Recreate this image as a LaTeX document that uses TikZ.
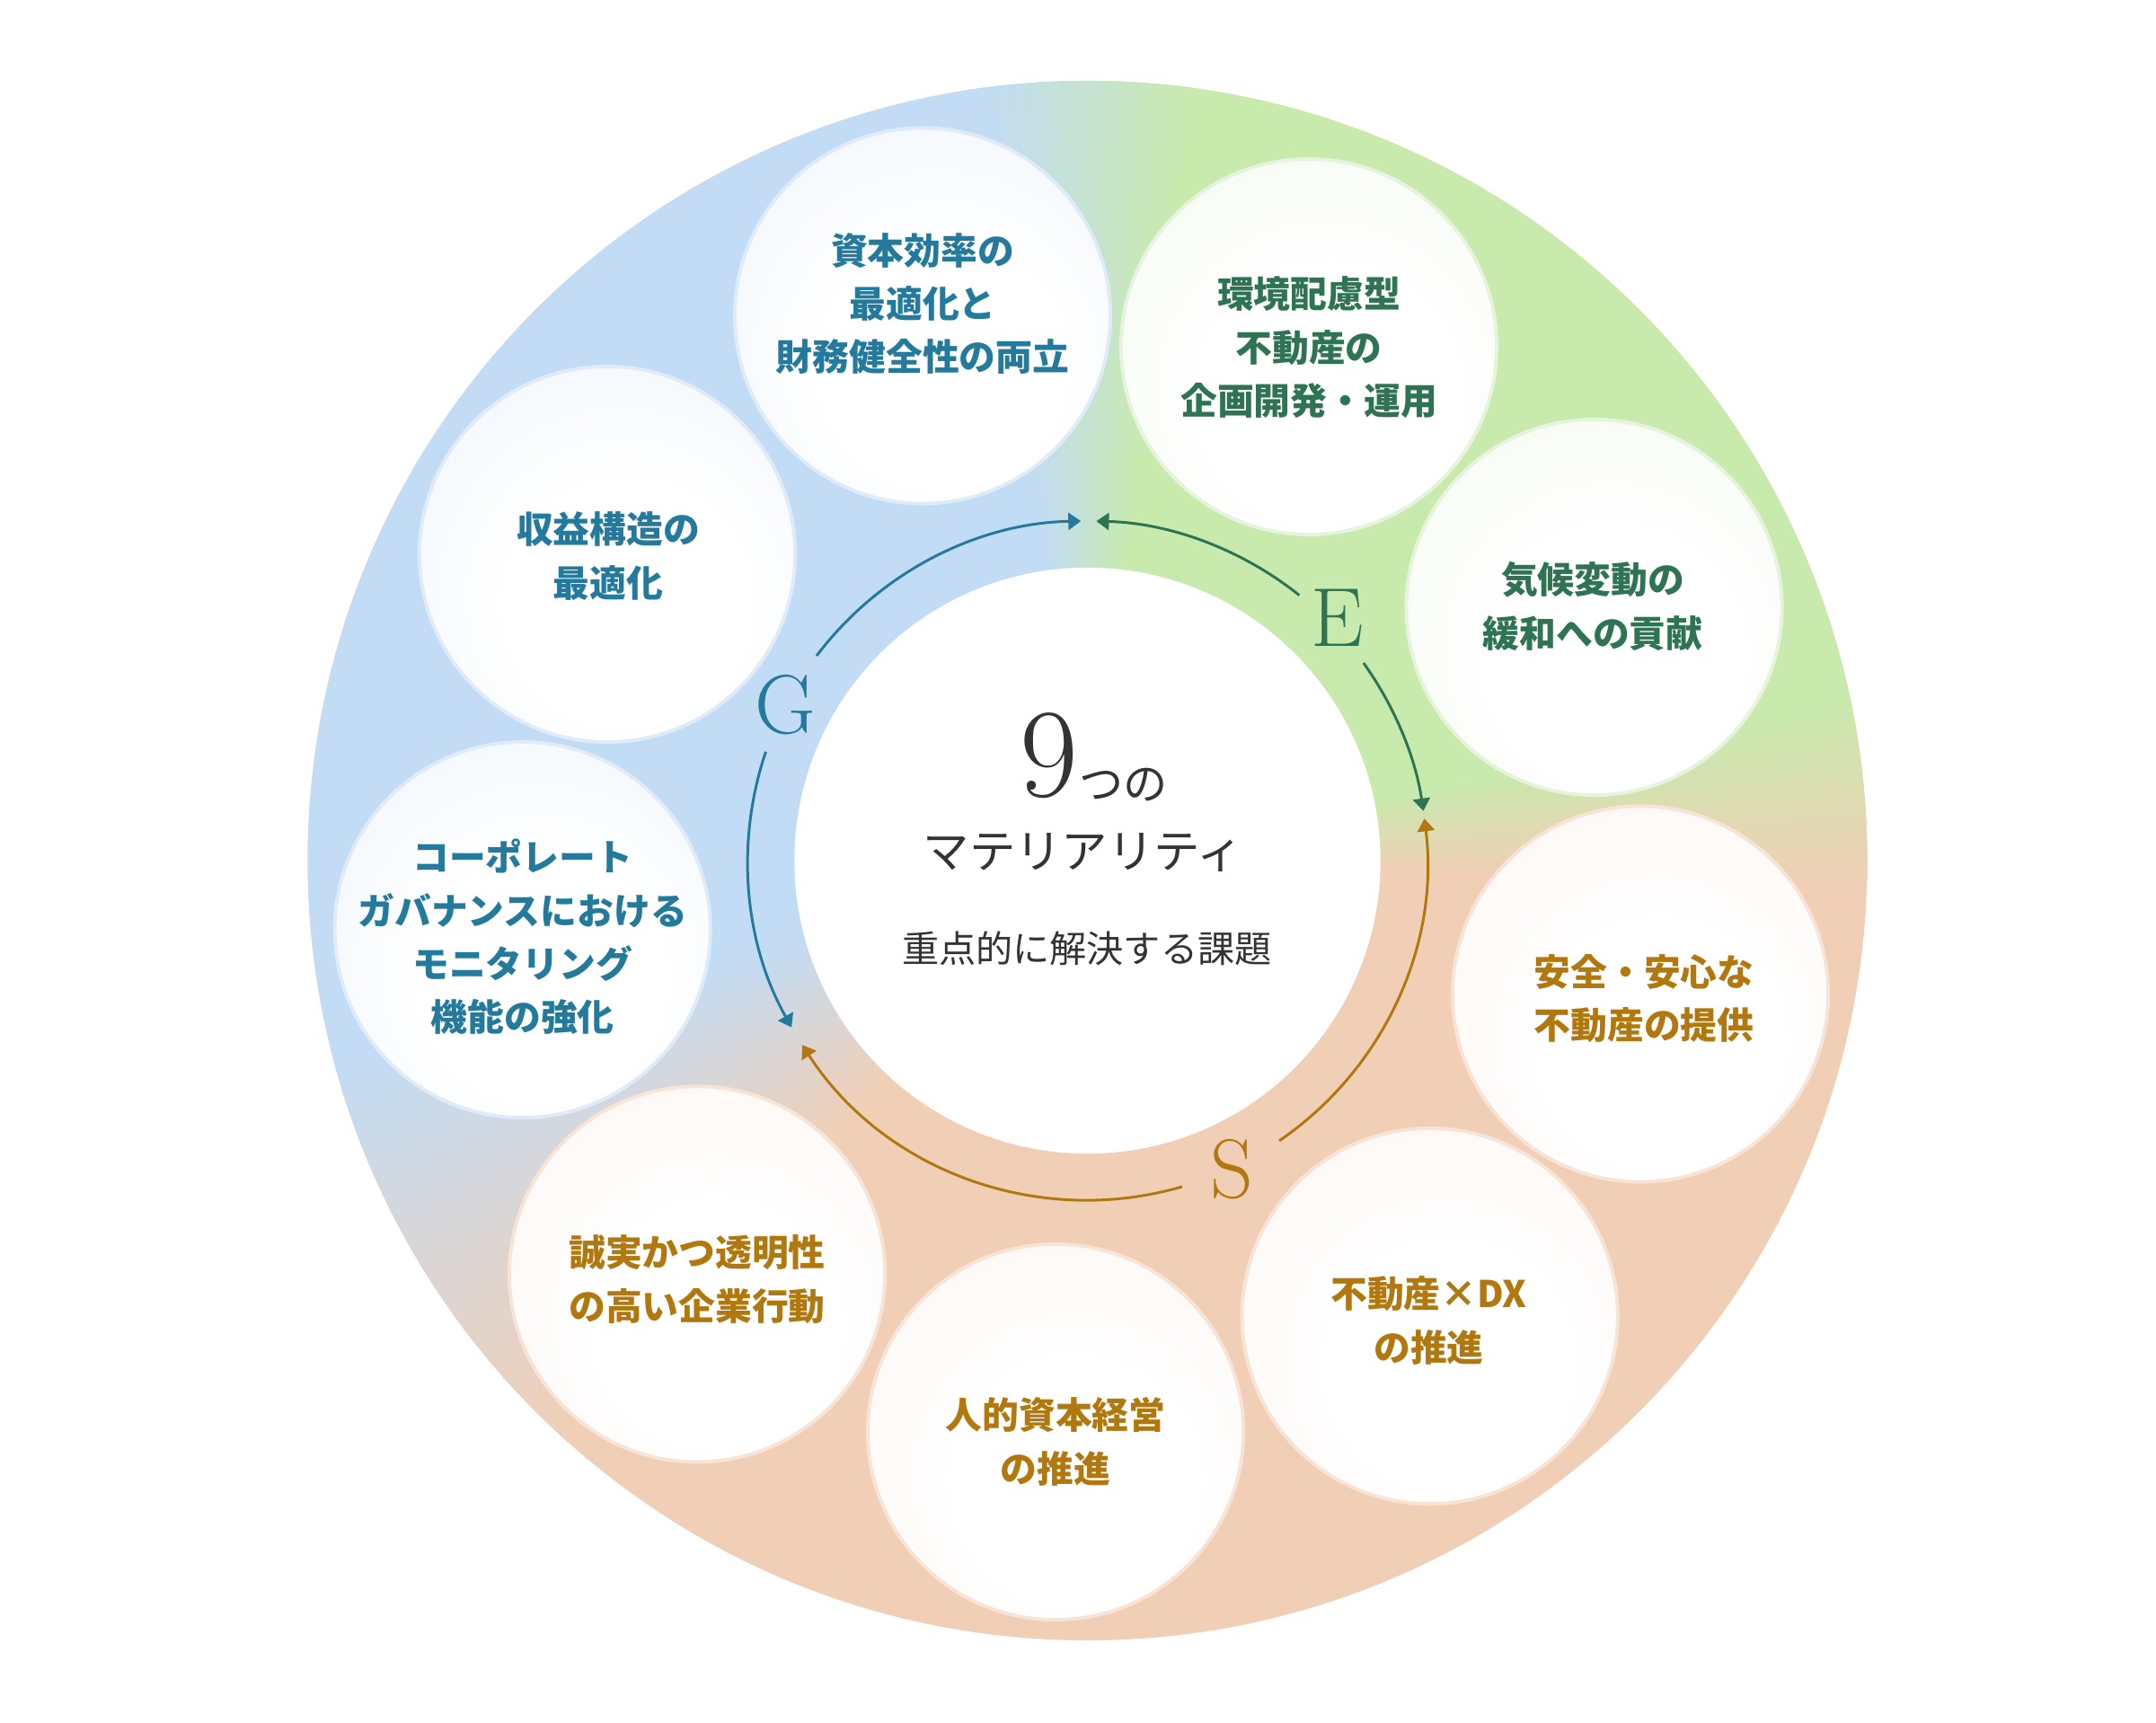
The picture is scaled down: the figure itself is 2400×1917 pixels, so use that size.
\documentclass[tikz,border=0pt]{standalone}
\usepackage{fontspec}
\newfontfamily\jp{Noto Sans CJK JP}
\usetikzlibrary{arrows.meta}
\definecolor{bgBlue}{HTML}{C2DCF5}
\definecolor{bgGreen}{HTML}{C8EAAD}
\definecolor{bgPeach}{HTML}{F1CFB6}
\definecolor{txtBlue}{HTML}{247A9D}
\definecolor{txtGreen}{HTML}{2E7452}
\definecolor{txtGold}{HTML}{B0780E}
\definecolor{ink}{HTML}{333333}
\definecolor{tintB}{HTML}{E6EFFA}
\definecolor{tintE}{HTML}{EEF7E8}
\definecolor{tintS}{HTML}{FCF0E9}
\definecolor{bordB}{HTML}{DFEBF8}
\definecolor{bordE}{HTML}{E6F3DD}
\definecolor{bordS}{HTML}{F8E3D7}
\pgfdeclareradialshading{bubB}{\pgfpoint{4bp}{-10bp}}{color(0bp)=(white); color(16bp)=(white); color(50bp)=(tintB)}
\pgfdeclareradialshading{bubE}{\pgfpoint{4bp}{-10bp}}{color(0bp)=(white); color(16bp)=(white); color(50bp)=(tintE)}
\pgfdeclareradialshading{bubS}{\pgfpoint{4bp}{-10bp}}{color(0bp)=(white); color(16bp)=(white); color(50bp)=(tintS)}
\begin{document}
\begin{tikzpicture}[x=0.01cm,y=0.01cm,
  bubble/.style={circle, minimum size=4.18cm, inner sep=0pt, line width=1.1pt, shade},
  bubG/.style={bubble, shading=bubB, draw=bordB},
  bubEn/.style={bubble, shading=bubE, draw=bordE},
  bubSo/.style={bubble, shading=bubS, draw=bordS},
  btext/.style={font=\jp\bfseries\fontsize{11.6pt}{16.9pt}\selectfont, align=center, inner sep=0pt},
  tG/.style={btext, text=txtBlue},
  tE/.style={btext, text=txtGreen},
  tS/.style={btext, text=txtGold},
  lbl/.style={font=\fontsize{26.5pt}{30pt}\selectfont, inner sep=0pt},
  arrtip/.style={-{Triangle[length=0.14cm,width=0.19cm]}},
  arrG/.style={draw=txtBlue, line width=0.85pt, arrtip},
  arrE/.style={draw=txtGreen, line width=0.85pt, arrtip},
  arrS/.style={draw=txtGold, line width=0.85pt, arrtip}]
\useasboundingbox (0,0) rectangle (2400,1917);
\fill[white] (0,0) rectangle (2400,1917);
\coordinate (C) at (1210.5,959);
% ring background (conic blend)
\fill[bgPeach] (C) circle[radius=868];
\fill[bgBlue] (C) -- ++(97:868) arc[start angle=97, end angle=196, radius=868] -- cycle;
\fill[bgGreen] (C) -- ++(11:868) arc[start angle=11, end angle=84, radius=868] -- cycle;
\foreach \i in {0,...,63}{
  \pgfmathsetmacro\a{82+0.25*\i}
  \pgfmathtruncatemacro\p{(\i+0.5)/64*100}
  \fill[bgBlue!\p!bgGreen] (C) -- ++(\a:868) arc[start angle=\a, delta angle=0.5, radius=868] -- cycle;
}
\foreach \i in {0,...,55}{
  \pgfmathsetmacro\a{-2+0.25*\i}
  \pgfmathtruncatemacro\p{(\i+0.5)/56*100}
  \fill[bgGreen!\p!bgPeach] (C) -- ++(\a:868) arc[start angle=\a, delta angle=0.5, radius=868] -- cycle;
}
\foreach \i in {0,...,131}{
  \pgfmathsetmacro\a{195+0.25*\i}
  \pgfmathtruncatemacro\p{100-(\i+0.5)/132*100}
  \fill[bgBlue!\p!bgPeach] (C) -- ++(\a:868) arc[start angle=\a, delta angle=0.5, radius=868] -- cycle;
}
% core
\node[circle, fill=white, minimum size=6.52cm, inner sep=0pt] (core) at (C) {};
% cycle arrows
\path (C) ++(142.9:378) coordinate (g1s);
\path (C) ++(161.3:378) coordinate (g2s);
\path (C) ++(51.4:378) coordinate (e1s);
\path (C) ++(35.6:378) coordinate (e2s);
\path (C) ++(-55.6:378) coordinate (s1s);
\path (C) ++(-73.8:378) coordinate (s2s);
\draw[arrG] (g1s) arc[start angle=142.9, end angle=91.1, radius=378];
\draw[arrG] (g2s) arc[start angle=161.3, end angle=209.4, radius=378];
\draw[arrE] (e1s) arc[start angle=51.4, end angle=88.5, radius=378];
\draw[arrE] (e2s) arc[start angle=35.6, end angle=8.4, radius=378];
\draw[arrS] (s1s) arc[start angle=-55.6, end angle=7.1, radius=378];
\draw[arrS] (s2s) arc[start angle=-73.8, end angle=-147.1, radius=378];
\node[lbl, text=txtBlue] (G) at (874.6,1132.3) {G};
\node[lbl, text=txtGreen] (E) at (1488.9,1229.2) {E};
\node[lbl, text=txtGold] (S) at (1371.7,615.3) {S};
% centre text
\node[font=\fontsize{40pt}{44pt}\selectfont, text=ink, inner sep=0pt] (nine) at (1167.5,1075.5) {9};
\node[font=\jp\fontsize{14pt}{16pt}\selectfont, text=ink, inner sep=0pt] (tsuno) at (1250.5,1043.5) {つの};
\node[font=\jp\fontsize{14.6pt}{17pt}\selectfont, text=ink, inner sep=0pt] (mat) at (1206,967.7) {マテリアリティ};
\node[font=\jp\fontsize{11.7pt}{14pt}\selectfont, text=ink, inner sep=0pt] (sub) at (1209.8,861.5) {重点的に解決する課題};
% bubbles
\node[bubG] (b1) at (1027,1565.5) {};
\node[bubEn] (b2) at (1457,1531) {};
\node[bubEn] (b3) at (1774.5,1241) {};
\node[bubSo] (b4) at (1826,810.5) {};
\node[bubSo] (b5) at (1591.7,452) {};
\node[bubSo] (b6) at (1175,323) {};
\node[bubSo] (b7) at (776,498.6) {};
\node[bubG] (b8) at (581.7,882) {};
\node[bubG] (b9) at (676,1300) {};
\node[tG] (t1) at (1027,1579) {資本効率の\\最適化と\\財務健全性の両立};
\node[tE] (t2) at (1457,1530) {環境配慮型\\不動産の\\企画開発・運用};
\node[tE] (t3) at (1773,1242) {気候変動の\\緩和への貢献};
\node[tS] (t4) at (1830,805.4) {安全・安心な\\不動産の提供};
\node[tS] (t5) at (1590.5,447) {不動産×DX\\の推進};
\node[tS] (t6) at (1175,312) {人的資本経営\\の推進};
\node[tS] (t7) at (776,493) {誠実かつ透明性\\の高い企業行動};
\node[tG] (t8) at (581.7,874) {コーポレート\\ガバナンスにおける\\モニタリング\\機能の強化};
\node[tG] (t9) at (677,1298) {収益構造の\\最適化};
\end{tikzpicture}
\end{document}
